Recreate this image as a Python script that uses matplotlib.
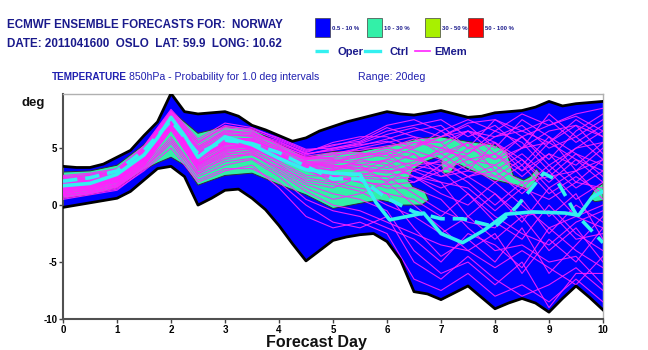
import matplotlib
matplotlib.use("Agg")
import matplotlib.pyplot as plt
import numpy as np

plt.rcParams['font.family'] = ['Liberation Sans', 'DejaVu Sans']
plt.rcParams['axes.unicode_minus'] = False

# ---------------- data ----------------
env_days = [0, 0.25, 0.5, 0.75, 1, 1.25, 1.5, 1.75, 2, 2.25, 2.5, 2.75, 3, 3.25, 3.5, 3.75,
            4, 4.25, 4.5, 4.75, 5, 5.25, 5.5, 5.75, 6, 6.25, 6.5, 6.75, 7, 7.25, 7.5, 7.75,
            8, 8.25, 8.5, 8.75, 9, 9.25, 9.5, 9.75, 10]
env_hi = [3.4, 3.3, 3.3, 3.6, 4.2, 4.8, 6.1, 7.3, 9.8, 8.2, 8.0, 8.1, 8.2, 7.8, 7.0, 6.6,
          6.1, 5.6, 5.9, 6.5, 6.9, 7.3, 7.6, 7.9, 8.2, 8.0, 7.9, 8.1, 8.3, 8.0, 7.7, 7.8,
          8.1, 8.2, 8.3, 8.6, 9.1, 8.7, 8.9, 9.0, 9.1]
env_lo = [-0.2, 0.0, 0.2, 0.4, 0.6, 1.2, 2.2, 3.2, 3.4, 2.5, 0.0, 0.6, 1.3, 1.4, 0.6, -0.4,
          -1.8, -3.4, -4.9, -4.0, -3.1, -2.8, -2.6, -2.5, -3.2, -4.8, -7.6, -7.8, -8.3, -7.7, -7.1, -8.1,
          -9.1, -8.6, -8.2, -8.6, -9.4, -8.2, -7.1, -8.1, -9.2]

# 10-30 % probability region outline (day, deg)
green_days = [0, 0.5, 1, 1.5, 1.75, 2, 2.25, 2.5, 3, 3.5, 4, 4.5, 5, 5.5, 6.12, 6.61, 6.98,
              7.54, 7.97, 8.22, 8.28, 8.34, 8.53, 8.65, 8.77, 8.83, 8.65,
              8.4, 7.97, 7.54, 7.3, 7.17, 7.04, 7.0, 7.02, 6.92, 6.7, 6.48, 6.39, 6.48, 6.7,
              6.77, 6.64, 6.3, 5.87, 5.5, 5, 4.5, 4, 3.5, 3, 2.5, 2.25, 2, 1.75, 1.5, 1, 0.5, 0]
green_vals = [2.9, 3.0, 3.5, 5.3, 6.6, 8.3, 7.3, 6.3, 6.9, 6.7, 5.4, 4.2, 4.7, 4.7, 5.3, 5.85, 6.0,
              5.55, 5.3, 4.7, 3.65, 2.6, 2.2, 2.5, 3.2, 2.8, 1.3,
              1.75, 2.2, 3.1, 3.65, 2.8, 2.8, 3.7, 3.9, 4.2, 3.8, 3.1, 2.2, 1.6, 1.2,
              0.45, 0.0, 0.0, 0.45, 0.15, -0.3, 0.9, 1.8, 2.8, 2.6, 1.75, 3.5, 4.2, 3.7, 3.1, 1.5, 0.9, 0.6]
blob_days = [9.75, 9.85, 10, 10, 9.85]
blob_vals = [0.6, 1.4, 1.9, 0.4, 0.3]

oper_days = [0, 0.5, 1, 1.5, 2, 2.5, 3, 3.5, 4, 4.5, 5, 5.5, 6, 6.5, 7, 7.4, 8, 8.4, 8.7, 8.9, 9.14, 9.5, 10]
oper = [2.1, 2.4, 3.0, 4.8, 7.4, 4.5, 5.7, 5.4, 4.6, 3.4, 2.3, 2.3, 0.6, -0.6, -1.2, -1.2, -1.9, -0.15, 1.6, 2.8, 2.2, -0.8, -3.3]

ctrl_days = [0, 0.5, 1, 1.5, 1.75, 2, 2.25, 2.5, 2.75, 3, 3.5, 4, 4.5, 5, 5.5, 5.8, 6.05, 6.37,
             6.68, 7.0, 7.4, 7.8, 8.2, 8.7, 9.3, 9.55, 9.8, 10]
ctrl = [1.7, 1.9, 2.7, 4.4, 5.9, 7.7, 6.1, 4.2, 5.1, 6.0, 5.3, 4.1, 3.1, 2.8, 2.7, 0.2, -1.3, -1.0,
        -0.7, -2.5, -3.3, -2.2, -0.8, -0.6, -0.7, -0.9, 0.7, 1.2]

mem_days = [0, 0.5, 1, 1.5, 2, 2.5, 3, 3.5, 4, 4.5, 5, 5.5, 6, 6.5, 7, 7.5, 8, 8.5, 9, 9.5, 10]
m01 = [1.2, 1.5, 2.0, 3.8, 7.0, 3.5, 5.0, 5.5, 4.0, 3.0, 2.5, 3.0, 4.0, 5.0, 6.5, 5.0, 4.0, 6.0, 3.5, 5.0, 6.5]
m02 = [1.5, 1.8, 2.4, 4.2, 7.4, 4.0, 5.5, 5.0, 4.5, 3.5, 3.0, 4.0, 4.5, 3.0, 2.0, -1.0, -3.0, -1.0, -4.0, -2.0, -5.0]
m03 = [0.8, 1.2, 1.6, 3.4, 6.6, 3.0, 4.0, 4.5, 3.0, 1.5, 0.5, 1.0, 2.0, 3.5, 5.0, 6.5, 4.5, 3.0, 5.5, 7.5, 6.0]
m04 = [2.0, 2.2, 2.8, 4.6, 7.8, 4.8, 6.2, 6.0, 5.0, 4.0, 4.5, 5.0, 5.5, 6.0, 4.5, 3.0, 5.5, 4.0, 2.0, 4.0, 3.0]
m05 = [1.8, 2.0, 2.6, 4.4, 7.6, 4.4, 5.8, 5.8, 4.8, 4.2, 4.0, 3.5, 2.0, 0.0, -2.0, -4.0, -2.5, -6.0, -3.0, -5.0, -2.0]
m06 = [1.0, 1.4, 1.8, 3.6, 6.8, 3.2, 4.4, 4.8, 3.5, 2.0, 1.5, 2.5, 3.5, 4.5, 3.0, 4.5, 6.0, 7.0, 5.0, 6.0, 4.0]
m07 = [2.4, 2.6, 3.0, 5.0, 8.2, 5.5, 6.8, 6.5, 5.2, 4.4, 5.0, 5.5, 6.5, 7.0, 7.5, 6.0, 7.0, 5.0, 8.0, 6.0, 7.5]
m08 = [0.6, 1.0, 1.4, 3.0, 5.0, 2.0, 3.0, 3.5, 1.5, -1.0, -2.0, -1.5, -2.5, -6.5, -7.5, -6.0, -8.0, -7.0, -8.5, -6.5, -8.5]
m09 = [1.4, 1.6, 2.2, 4.0, 7.2, 3.8, 5.2, 5.2, 4.2, 3.2, 2.0, 1.5, 1.0, -2.0, -4.5, -3.0, -5.0, -2.0, -6.0, -3.5, -1.0]
m10 = [2.2, 2.4, 2.9, 4.8, 8.0, 5.0, 6.5, 6.2, 5.5, 4.6, 5.5, 6.0, 6.0, 5.0, 6.0, 7.0, 5.0, 7.5, 6.0, 3.0, 5.0]
m11 = [1.6, 1.9, 2.5, 4.3, 7.3, 4.2, 5.6, 5.5, 4.4, 3.6, 3.5, 3.0, 3.0, 2.0, 3.5, 2.0, 0.0, 2.0, -1.0, 1.0, -3.0]
m12 = [1.1, 1.3, 1.9, 3.7, 6.9, 3.4, 4.6, 5.0, 3.8, 2.6, 2.5, 2.0, 1.0, 0.5, -1.0, 1.0, -1.5, -3.0, 0.0, -2.5, -4.0]
m13 = [2.6, 2.8, 3.2, 5.2, 8.4, 5.8, 7.2, 6.8, 5.8, 4.8, 5.2, 5.8, 7.0, 7.5, 6.5, 7.5, 6.5, 8.0, 7.0, 8.0, 8.5]
m14 = [1.3, 1.7, 2.3, 4.1, 7.1, 3.6, 5.0, 5.3, 4.6, 3.8, 3.8, 4.5, 4.5, 4.0, 4.5, 5.5, 3.0, 1.0, 3.0, 0.5, 2.0]
m15 = [0.9, 1.1, 1.7, 3.5, 6.0, 2.8, 4.2, 4.6, 3.2, 1.8, 1.0, 0.5, -0.5, -4.0, -6.0, -5.0, -7.0, -5.0, -9.0, -6.0, -6.0]
m16 = [1.9, 2.1, 2.7, 4.5, 7.7, 4.6, 6.0, 5.6, 4.9, 4.1, 4.2, 5.0, 5.0, 4.5, 2.5, 3.5, 2.0, 3.5, 1.0, 2.5, 1.0]
m17 = [1.7, 2.0, 2.5, 4.3, 7.5, 4.3, 5.5, 5.9, 5.0, 3.9, 3.2, 3.5, 4.0, 3.5, 3.0, 4.0, 4.5, 2.5, 4.5, 3.5, 5.5]
m18 = [1.2, 1.5, 2.1, 3.9, 7.0, 3.7, 4.8, 4.9, 3.9, 3.3, 2.8, 2.2, 1.5, 1.5, 0.5, -2.0, -4.0, -3.5, -5.0, -4.5, -7.0]
m19 = [2.1, 2.3, 2.8, 4.7, 7.9, 4.9, 6.4, 6.4, 5.3, 4.3, 4.6, 4.8, 5.2, 5.5, 5.0, 4.0, 3.5, 5.0, 6.5, 7.0, 6.0]
m20 = [0.7, 1.0, 1.5, 3.2, 5.6, 2.5, 3.5, 4.0, 2.5, 0.5, -0.5, -1.0, -2.0, -3.0, -5.0, -2.5, -3.5, -5.5, -2.0, -4.0, -5.5]
m21 = [1.5, 1.8, 2.3, 4.2, 7.3, 4.1, 5.4, 5.4, 4.3, 3.4, 3.3, 3.8, 3.8, 2.5, 1.0, 0.0, 2.0, 0.0, -2.0, -1.0, 0.0]
m22 = [2.3, 2.5, 3.0, 4.9, 8.1, 5.2, 6.6, 6.3, 5.6, 4.5, 4.8, 5.2, 5.8, 6.5, 7.0, 5.0, 7.5, 6.5, 5.5, 7.0, 4.5]
m23 = [1.0, 1.3, 1.8, 3.6, 6.7, 3.3, 4.5, 4.7, 3.6, 2.4, 2.0, 2.5, 2.5, 3.0, 4.0, 2.5, 3.0, 4.5, 2.5, 4.5, 2.5]
m24 = [1.6, 1.8, 2.4, 4.2, 7.4, 4.1, 5.3, 5.7, 4.5, 3.7, 3.6, 4.0, 3.5, 2.5, 1.5, 2.5, 1.0, -1.0, -0.5, -3.0, -2.5]
m25 = [1.4, 1.7, 2.2, 4.0, 7.1, 3.9, 5.1, 5.1, 4.1, 3.1, 2.7, 2.8, 2.5, 1.0, -0.5, -1.5, -2.0, 0.5, -2.5, 0.0, -1.5]
m26 = [2.5, 2.7, 3.1, 5.1, 8.3, 5.6, 7.0, 6.6, 5.7, 4.7, 5.3, 5.6, 6.8, 6.0, 5.5, 6.5, 6.0, 6.5, 7.5, 5.5, 7.0]
m27 = [0.5, 0.9, 1.3, 3.1, 5.4, 2.2, 3.2, 3.2, 2.0, 0.0, -1.5, -2.0, -1.0, -5.0, -6.5, -4.5, -6.5, -8.0, -7.0, -5.5, -7.5]
m28 = [1.8, 2.0, 2.6, 4.4, 7.6, 4.5, 5.9, 5.7, 4.7, 4.0, 3.9, 4.2, 4.8, 4.0, 3.5, 5.0, 5.5, 3.5, 6.0, 4.5, 3.5]
m29 = [1.3, 1.6, 2.1, 3.9, 7.0, 3.6, 4.9, 5.1, 4.0, 3.0, 2.3, 2.4, 2.2, 2.5, 2.0, 1.5, -0.5, 1.5, 0.5, 2.0, 1.5]
m30 = [2.0, 2.2, 2.7, 4.6, 7.8, 4.7, 6.1, 6.1, 5.1, 4.2, 4.4, 4.6, 4.2, 5.5, 5.5, 3.5, 4.5, 6.0, 4.0, 6.5, 8.0]
m31 = [1.1, 1.4, 2.0, 3.8, 6.9, 3.5, 4.7, 5.0, 4.2, 3.5, 3.4, 3.6, 3.2, 3.8, 4.8, 4.2, 2.5, 4.0, 1.5, 3.0, 0.5]
m32 = [1.7, 1.9, 2.5, 4.3, 7.5, 4.3, 5.7, 5.6, 4.6, 3.8, 3.7, 4.3, 4.6, 5.2, 6.0, 6.5, 5.5, 3.0, 4.5, 2.0, 4.0]
m33 = [0.9, 1.2, 1.7, 3.5, 6.6, 3.1, 4.3, 4.4, 3.3, 2.2, 1.8, 1.2, 0.0, -1.0, -2.5, -1.0, 1.0, -1.5, 1.5, -1.0, -2.0]
m34 = [2.2, 2.4, 2.9, 4.8, 8.0, 5.1, 6.3, 6.1, 5.4, 4.5, 4.9, 5.4, 6.2, 6.8, 6.0, 7.2, 7.5, 6.0, 7.0, 7.8, 6.5]
m35 = [1.5, 1.7, 2.3, 4.1, 7.2, 4.0, 5.3, 5.4, 4.4, 3.3, 3.1, 3.3, 3.0, 3.2, 2.5, 3.0, 2.5, 1.5, 3.5, 1.5, 3.0]
m36 = [1.9, 2.1, 2.6, 4.5, 7.7, 4.5, 5.9, 5.8, 4.8, 4.1, 4.1, 4.4, 5.0, 5.8, 5.0, 4.5, 6.5, 5.5, 3.0, 5.0, 5.5]
m37 = [1.3, 1.5, 2.1, 3.9, 7.0, 3.7, 4.9, 5.2, 4.1, 3.1, 2.6, 2.0, 1.8, 2.0, 3.0, 1.0, -1.0, -2.5, -3.5, -1.5, -0.5]
m38 = [0.8, 1.1, 1.6, 3.3, 5.8, 2.7, 3.8, 4.1, 2.8, 1.2, 0.0, -0.5, -1.5, -2.5, -3.5, -4.0, -5.5, -4.0, -5.5, -7.0, -4.5]
m39 = [2.4, 2.6, 3.0, 5.0, 8.2, 5.4, 6.9, 6.7, 5.9, 4.9, 5.0, 5.3, 5.6, 4.8, 4.0, 5.5, 4.0, 5.0, 5.5, 4.0, 2.0]
m40 = [1.6, 1.8, 2.4, 4.2, 7.4, 4.2, 5.4, 5.5, 4.3, 3.6, 3.5, 3.2, 2.8, 3.5, 3.8, 2.5, 3.5, 2.0, 2.5, 3.0, 4.0]
members = [m01, m02, m03, m04, m05, m06, m07, m08, m09, m10, m11, m12, m13, m14, m15, m16, m17, m18, m19, m20,
           m21, m22, m23, m24, m25, m26, m27, m28, m29, m30, m31, m32, m33, m34, m35, m36, m37, m38, m39, m40]

x_ticks = [0, 1, 2, 3, 4, 5, 6, 7, 8, 9, 10]
y_ticks = [-10, -5, 0, 5]
prob_labels = ['0.5 - 10 %', '10 - 30 %', '30 - 50 %', '50 - 100 %']
prob_colors = ['#0000ff', '#33f0a8', '#a8f000', '#ff0000']

# ---------------- figure ----------------
W, H = 648, 350
fig = plt.figure(figsize=(W / 100, H / 100), dpi=100)
ax = fig.add_axes([63 / W, 1 - 319 / H, 540 / W, 225 / H])

def fx(px):
    return px / W

def fy(py):
    return 1 - py / H

MAG = '#ff22ff'
CYAN = '#33f0f0'
NAVY = '#1a1a8c'

ax.fill_between(env_days, env_lo, env_hi, color=prob_colors[0], lw=0, zorder=1)
ax.fill(green_days, green_vals, facecolor=prob_colors[1], edgecolor='#303030', lw=0.7, zorder=2)
ax.fill(blob_days, blob_vals, facecolor=prob_colors[1], edgecolor='#303030', lw=0.7, zorder=2)
for m in members:
    ax.plot(mem_days, m, color=MAG, lw=0.8, alpha=0.9, zorder=3)
ax.plot(env_days, env_hi, color='black', lw=2.0, zorder=4)
ax.plot(env_days, env_lo, color='black', lw=2.0, zorder=4)
ax.plot(ctrl_days, ctrl, color=CYAN, lw=2.6, zorder=5)
ax.plot(oper_days, oper, color=CYAN, lw=2.6, dashes=(4, 2.2), zorder=6)

ax.set_xlim(0, 10)
ax.set_ylim(-10, 9.75)
ax.set_xticks(x_ticks)
ax.set_yticks(y_ticks)
ax.tick_params(axis='both', labelsize=7, length=3, width=1, color='#444444', pad=1)
for lab in ax.get_xticklabels() + ax.get_yticklabels():
    lab.set_fontweight('bold')
for s in ['left', 'bottom']:
    ax.spines[s].set_color('#505050')
    ax.spines[s].set_linewidth(1.5)
for s in ['top', 'right']:
    ax.spines[s].set_color('#b0b0b0')
    ax.spines[s].set_linewidth(1.0)

# ---------------- texts ----------------
fig.text(fx(7), fy(28), 'ECMWF ENSEMBLE FORECASTS FOR:  NORWAY', fontsize=8.4, fontweight='bold',
         color=NAVY, va='baseline', ha='left')
fig.text(fx(7), fy(47), 'DATE: 2011041600  OSLO  LAT: 59.9  LONG: 10.62', fontsize=8.4, fontweight='bold',
         color=NAVY, va='baseline', ha='left')
fig.text(fx(52), fy(80), 'TEMPERATURE', fontsize=7.2, fontweight='bold', color='#2020b0', va='baseline')
fig.text(fx(129), fy(80), '850hPa - Probability for 1.0 deg intervals', fontsize=7.6, color='#2020b0',
         va='baseline')
fig.text(fx(358), fy(80), 'Range: 20deg', fontsize=7.7, color='#2020b0', va='baseline')
fig.text(fx(22), fy(106), 'deg', fontsize=9.5, fontweight='bold', color='#111111', va='baseline')
fig.text(fx(316), fy(347), 'Forecast Day', fontsize=11.5, fontweight='bold', color='#111111',
         va='baseline', ha='center')

# probability legend
sq_x = [315, 367, 425, 468]
for xx, lab, col in zip(sq_x, prob_labels, prob_colors):
    fig.patches.append(plt.Rectangle((fx(xx), fy(37)), 15 / W, 19 / H, transform=fig.transFigure,
                                     facecolor=col, edgecolor='#404040', lw=0.5))
    fig.text(fx(xx + 17), fy(30), lab, fontsize=4.3, fontweight='bold', color=NAVY, va='baseline')

# line legend
ly = 51
fig.add_artist(plt.Line2D([fx(315), fx(334)], [fy(ly), fy(ly)], color=CYAN, lw=2.4, dashes=(4, 2),
                          transform=fig.transFigure))
fig.text(fx(338), fy(ly + 4), 'Oper', fontsize=8, fontweight='bold', color=NAVY, va='baseline')
fig.add_artist(plt.Line2D([fx(365), fx(380)], [fy(ly), fy(ly)], color=CYAN, lw=2.4,
                          transform=fig.transFigure))
fig.text(fx(390), fy(ly + 4), 'Ctrl', fontsize=8, fontweight='bold', color=NAVY, va='baseline')
fig.add_artist(plt.Line2D([fx(415), fx(430)], [fy(ly), fy(ly)], color=MAG, lw=1.2,
                          transform=fig.transFigure))
fig.text(fx(434), fy(ly + 4), 'EMem', fontsize=8, fontweight='bold', color=NAVY, va='baseline')

fig.savefig('out.png', dpi=100)
